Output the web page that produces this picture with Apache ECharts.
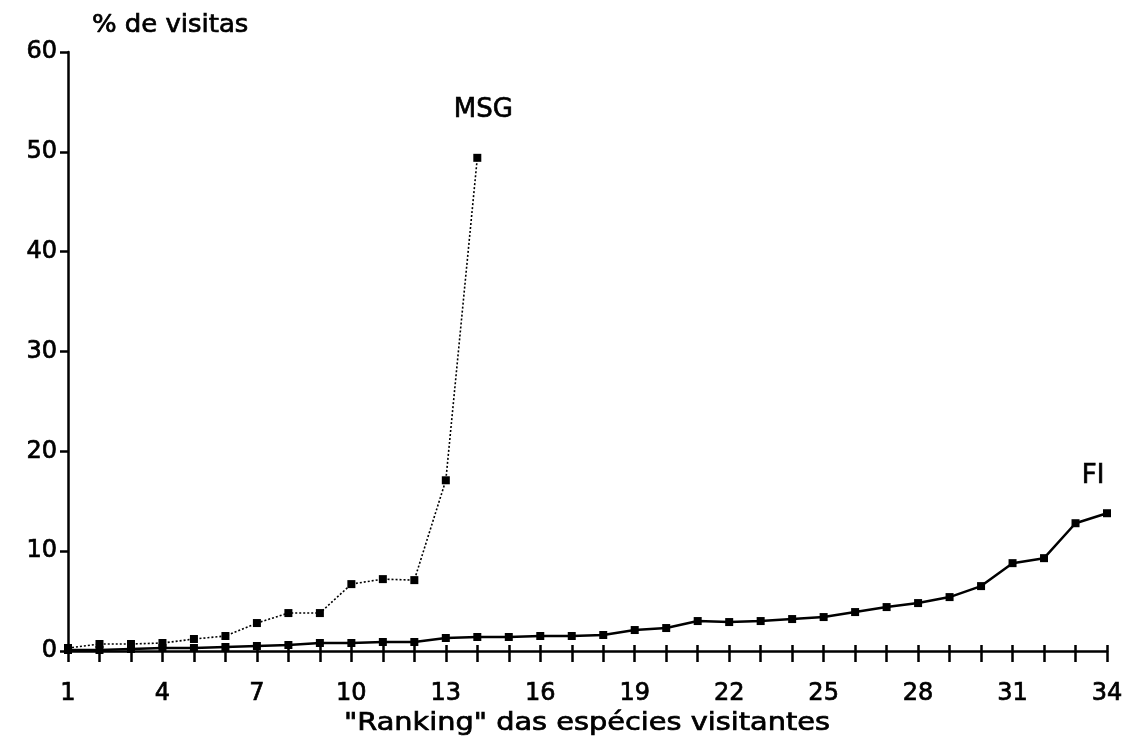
<!DOCTYPE html>
<html>
<head>
<meta charset="utf-8">
<script src="https://cdn.jsdelivr.net/npm/echarts@6/dist/echarts.min.js"></script>
<style>html,body{margin:0;padding:0;background:#fff;}#c{width:1127px;height:740px;}</style>
</head>
<body>
<div id="c"></div>
<script>
const ranks = [1,2,3,4,5,6,7,8,9,10,11,12,13,14,15,16,17,18,19,20,21,22,23,24,25,26,27,28,29,30,31,32,33,34];
const msgValues = [0.3,0.7,0.7,0.8,1.2,1.5,2.8,3.8,3.8,6.7,7.2,7.1,17.1,49.4];
const fiValues = [0.1,0.1,0.2,0.3,0.3,0.4,0.5,0.6,0.8,0.8,0.9,0.9,1.3,1.4,1.4,1.5,1.5,1.6,2.1,2.3,3.0,2.9,3.0,3.2,3.4,3.9,4.4,4.8,5.4,6.5,8.8,9.3,12.8,13.8];
const xLabels = [1,4,7,10,13,16,19,22,25,28,31,34];
const yTicks = [0,10,20,30,40,50,60];
const seriesNames = ['MSG','FI'];
const yName = '% de visitas';
const xName = '"Ranking" das espécies visitantes';

const font = '"DejaVu Sans", Verdana, sans-serif';
const ink = {color:'#000', textBorderColor:'#000', textBorderWidth:0.7};
function pairs(vals){ return vals.map((v,i)=>[ranks[i], v]); }
function withEndLabel(vals, name, distance, offset){
  const d = pairs(vals);
  const last = d.length-1;
  d[last] = {value: d[last], label:Object.assign({show:true, formatter:name, position:'top', distance: distance, fontFamily: font, fontSize: 26, offset: offset}, ink)};
  return d;
}
const chart = echarts.init(document.getElementById('c'));
chart.setOption({
  animation:false,
  backgroundColor:'#fff',
  graphic:[
    {type:'text', x:92, y:26, scaleX:1.08, style:{text:yName, fontFamily:font, fontSize:24, fill:'#000', stroke:'#000', lineWidth:0.7, textAlign:'left', textVerticalAlign:'middle'}},
    {type:'text', x:587, y:724, scaleX:1.2, style:{text:xName, fontFamily:font, fontSize:24, fill:'#000', stroke:'#000', lineWidth:0.7, textAlign:'center', textVerticalAlign:'middle'}}
  ],
  grid:{left:68, right:20, top:52, bottom:89, containLabel:false},
  xAxis:[{
    type:'value', min:ranks[0], max:ranks[ranks.length-1], interval:1,
    axisLine:{show:true, lineStyle:{color:'#000', width:2.5}},
    axisTick:{show:true, length:11, lineStyle:{color:'#000', width:2.5}},
    splitLine:{show:false},
    axisLabel:Object.assign({fontFamily:font, fontSize:24, margin:31,
      formatter:(v)=> xLabels.indexOf(v) >= 0 ? String(v) : '' , showMinLabel:true, showMaxLabel:true}, ink)
  },{
    type:'value', position:'bottom', min:ranks[0], max:ranks[ranks.length-1], interval:1,
    axisLine:{show:false},
    axisTick:{show:true, inside:true, length:6, lineStyle:{color:'#000', width:2.5}},
    axisLabel:{show:false}, splitLine:{show:false}
  }],
  yAxis:{
    type:'value', min:yTicks[0], max:yTicks[yTicks.length-1], interval:10,
    axisLine:{show:true, lineStyle:{color:'#000', width:2.5}},
    axisTick:{show:true, length:8, lineStyle:{color:'#000', width:2.5}},
    splitLine:{show:false},
    axisLabel:Object.assign({fontFamily:font, fontSize:24, margin:11}, ink)
  },
  series:[
    {name:seriesNames[0], type:'line', data: withEndLabel(msgValues, seriesNames[0], 31, [6,0]),
      symbol:'rect', symbolSize:8, showAllSymbol:true,
      lineStyle:{color:'#000', width:1.6, type:[2,2]}, itemStyle:{color:'#000'}, z:3},
    {name:seriesNames[1], type:'line', data: withEndLabel(fiValues, seriesNames[1], 20, [-14,0]),
      symbol:'rect', symbolSize:8, showAllSymbol:true,
      lineStyle:{color:'#000', width:2.5}, itemStyle:{color:'#000'}, z:4}
  ]
});
</script>
</body>
</html>
